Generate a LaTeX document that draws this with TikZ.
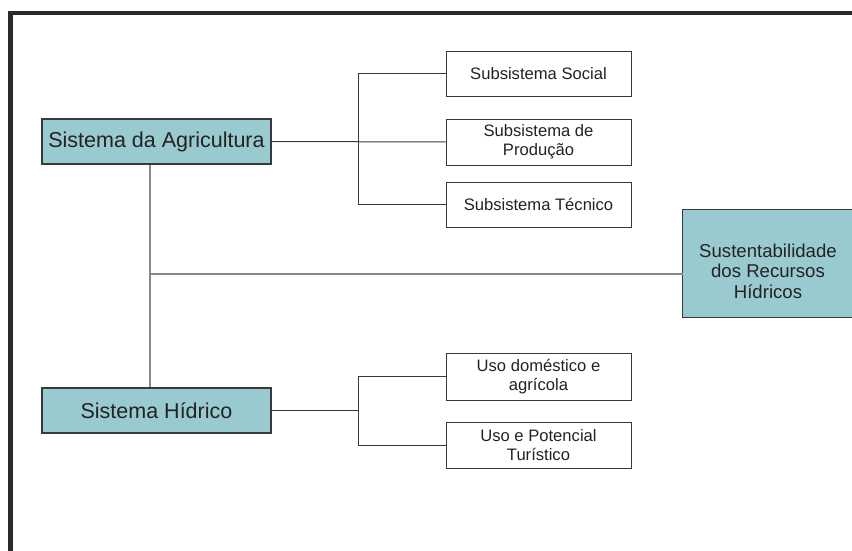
\documentclass[tikz,border=0pt]{standalone}
\usepackage{fontspec}
\setmainfont{Liberation Sans}
\definecolor{teal1}{RGB}{152,202,207}
\definecolor{framecol}{RGB}{38,43,46}
\definecolor{boxline}{RGB}{55,58,60}
\definecolor{txt}{RGB}{35,35,35}
\definecolor{lightln}{RGB}{135,135,135}
\begin{document}
\begin{tikzpicture}[x=1pt,y=-1pt,
  bigbox/.style={draw=boxline, line width=1.1pt, fill=teal1, minimum width=229pt, minimum height=45pt, inner sep=0pt, text=txt, font=\fontsize{21.5}{24}\selectfont},
  subbox/.style={draw=boxline, line width=1pt, fill=white, minimum width=185pt, minimum height=45pt, inner sep=0pt, align=center, text=txt, font=\fontsize{16.6}{19.2}\selectfont},
  darkln/.style={draw=boxline, line width=1pt},
  greyln/.style={draw=lightln, line width=1.6pt}]
\useasboundingbox (0,0) rectangle (852,551);
\clip (0,0) rectangle (852,551);
\fill[white] (0,0) rectangle (852,551);
% frame
\fill[framecol] (8,11) rectangle (852,15.5);
\fill[framecol] (8,11) rectangle (13,551);
% boxes
\node[bigbox] (agri) at (156.5,141.5) {Sistema da Agricultura};
\node[bigbox] (hid) at (156.5,410.5) {Sistema Hídrico};
\node[subbox] (soc) at (538.5,74) {Subsistema Social};
\node[subbox, minimum height=46pt] (prod) at (538.5,142) {Subsistema de\\Produção};
\node[subbox] (tec) at (538.5,204.5) {Subsistema Técnico};
\node[subbox, minimum height=47pt] (uso1) at (538.5,376.5) {Uso doméstico e\\agrícola};
\node[subbox, minimum height=46pt] (uso2) at (538.5,445) {Uso e Potencial\\ Turístico};
\node[fill=teal1, minimum width=180pt, minimum height=107pt, inner sep=0pt] (sust) at (773,263.5) {};
\draw[boxline, line width=1.1pt] (sust.north east) -- (sust.north west) -- (sust.south west) -- (sust.south east);
\node[align=center, text=txt, font=\fontsize{18.6}{20.5}\selectfont, inner sep=0pt] (sustT) at (768,271) {Sustentabilidade\\dos Recursos\\Hídricos};
% connectors
\coordinate (j) at (150,274);
\draw[greyln] ([xshift=-6.5pt]agri.south) -- ([xshift=-6.5pt]hid.north);
\draw[greyln] (j) -- (j -| sust.west);
\draw[darkln] (agri.east) -- (prod.west);
\draw[darkln] (soc.west) -- ++(-87,0) coordinate (t1) |- (tec.west);
\draw[darkln] (uso1.west) -- ++(-87,0) coordinate (t2) |- (uso2.west);
\draw[darkln] (hid.east) -- (hid.east -| t2);
\end{tikzpicture}
\end{document}
